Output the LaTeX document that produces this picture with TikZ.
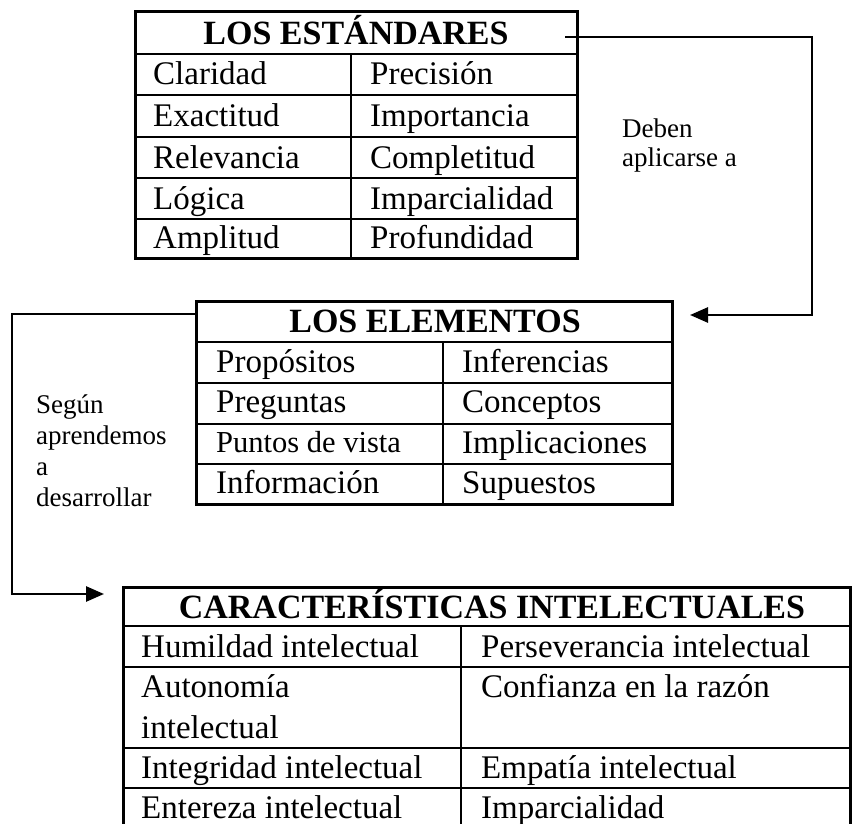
\documentclass[tikz,border=0pt]{standalone}
\usepackage{fontspec}
\setmainfont{Liberation Serif}
\usetikzlibrary{arrows.meta}
\begin{document}
\begin{tikzpicture}[x=1pt,y=-1pt,
 frame/.style={line width=3pt},
 rule/.style={line width=2.6pt},
 cell/.style={anchor=base west,inner sep=0pt,font=\fontsize{33}{38}\selectfont},
 smallcell/.style={anchor=base west,inner sep=0pt,font=\fontsize{30.5}{36}\selectfont},
 head/.style={anchor=base,inner sep=0pt,font=\fontsize{34}{40}\selectfont\bfseries},
 lab/.style={anchor=base west,inner sep=0pt,font=\fontsize{27}{31}\selectfont},
 conn/.style={line width=2.6pt},
 tip/.style={-{Triangle[length=18pt,width=15pt]}}
]
\useasboundingbox (0,0) rectangle (852,824);
\clip (0,0) rectangle (852,824);

% ---------- Table 1: LOS ESTANDARES ----------
\draw[frame] (135,12) rectangle (577,258);
\foreach \y in {54,95,137,178,219} \draw[rule] (135,\y) -- (577,\y);
\draw[rule] (351,54) -- (351,258);
\node[head] (h1) at (356,45) {LOS ESTÁNDARES};
\node[cell] (a11) at (153,85) {Claridad};
\node[cell] (a12) at (370,85) {Precisión};
\node[cell] (a21) at (153,127) {Exactitud};
\node[cell] (a22) at (370,127) {Importancia};
\node[cell] (a31) at (153,168) {Relevancia};
\node[cell] (a32) at (370,168) {Completitud};
\node[cell] (a41) at (153,209) {Lógica};
\node[cell] (a42) at (370,209) {Imparcialidad};
\node[cell] (a51) at (153,248) {Amplitud};
\node[cell] (a52) at (370,248) {Profundidad};

% ---------- Table 2: LOS ELEMENTOS ----------
\draw[frame] (196,301) rectangle (672,504);
\foreach \y in {342,383,424,464} \draw[rule] (196,\y) -- (672,\y);
\draw[rule] (443,342) -- (443,504);
\node[head] (h2) at (435,332) {LOS ELEMENTOS};
\node[cell] (b11) at (216,372) {Propósitos};
\node[cell] (b12) at (462,372) {Inferencias};
\node[cell] (b21) at (216,412) {Preguntas};
\node[cell] (b22) at (462,412) {Conceptos};
\node[smallcell] (b31) at (216,452) {Puntos de vista};
\node[cell] (b32) at (462,453) {Implicaciones};
\node[cell] (b41) at (216,493) {Información};
\node[cell] (b42) at (462,493) {Supuestos};

% ---------- Table 3: CARACTERISTICAS INTELECTUALES ----------
\draw[frame] (123,587) rectangle (850,832);
\foreach \y in {626,667,748,788} \draw[rule] (123,\y) -- (850,\y);
\draw[rule] (461,626) -- (461,832);
\node[head] (h3) at (492,618) {CARACTERÍSTICAS INTELECTUALES};
\node[cell] (c11) at (141,657) {Humildad intelectual};
\node[cell] (c12) at (481,657) {Perseverancia intelectual};
\node[cell] (c21) at (141,697) {Autonomía};
\node[cell] (c21b) at (141,738) {intelectual};
\node[cell] (c22) at (481,697) {Confianza en la razón};
\node[cell] (c31) at (141,778) {Integridad intelectual};
\node[cell] (c32) at (481,778) {Empatía intelectual};
\node[cell] (c41) at (141,818) {Entereza intelectual};
\node[cell] (c42) at (481,818) {Imparcialidad};

% ---------- Connectors ----------
\coordinate (s1) at (565,37);
\coordinate (k1) at (812,37);
\coordinate (t1) at (690,315);
\draw[conn,tip] (s1) -- (k1) |- (t1);

\coordinate (s2) at (196,314);
\coordinate (k2) at (12,314);
\coordinate (t2) at (104,594);
\draw[conn,tip] (s2) -- (k2) |- (t2);

% ---------- Labels ----------
\node[lab] (l1) at (622,138) {Deben};
\node[lab] (l2) at (622,167) {aplicarse a};
\node[lab] (m1) at (36,413) {Según};
\node[lab] (m2) at (36,444) {aprendemos};
\node[lab] (m3) at (36,475) {a};
\node[lab] (m4) at (36,506) {desarrollar};
\end{tikzpicture}
\end{document}
